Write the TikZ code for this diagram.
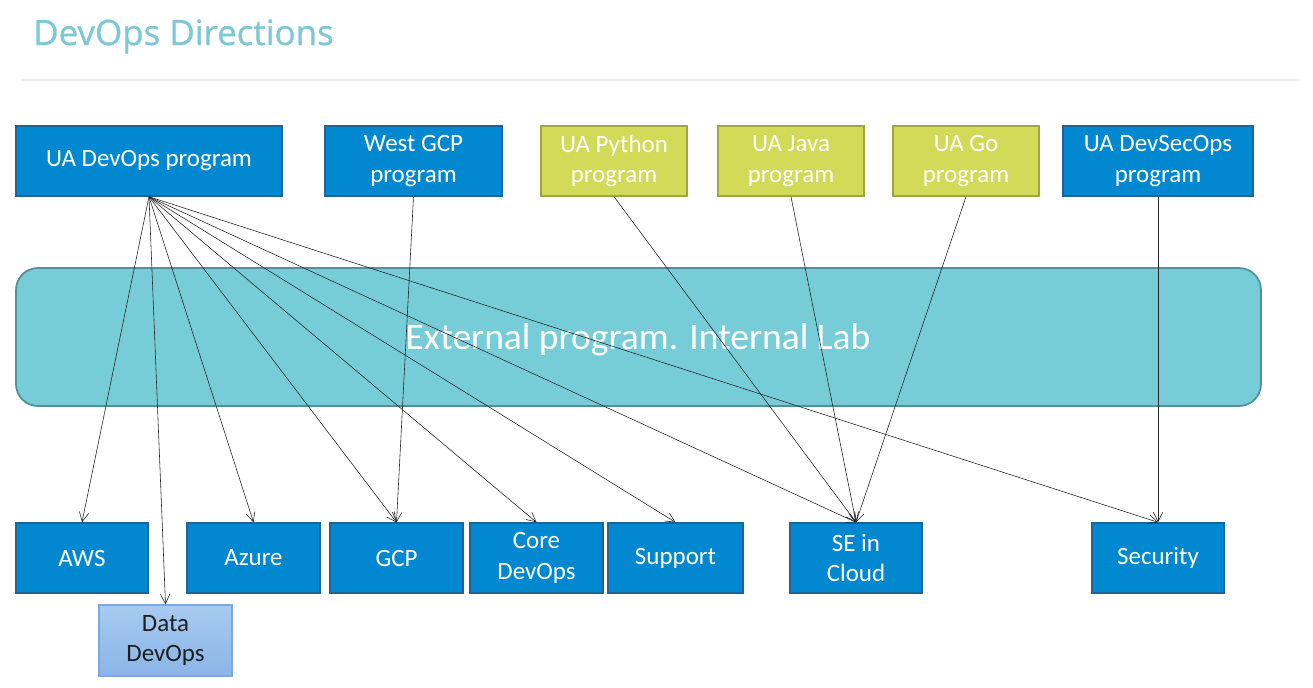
\documentclass[tikz,border=0pt]{standalone}
\usepackage{fontspec}
\setmainfont{Carlito}
\newfontfamily\titlefont[FakeBold=0.9]{Open Sans}
\usetikzlibrary{arrows.meta}

\definecolor{boxblue}{RGB}{2,136,209}
\definecolor{boxblueline}{RGB}{30,100,150}
\definecolor{boxgreen}{RGB}{210,219,87}
\definecolor{boxgreenline}{RGB}{160,168,60}
\definecolor{labfill}{RGB}{118,205,216}
\definecolor{labline}{RGB}{80,145,155}
\definecolor{datatop}{RGB}{168,203,241}
\definecolor{databot}{RGB}{138,181,231}
\definecolor{dataline}{RGB}{120,170,220}
\definecolor{titleblue}{RGB}{125,200,214}

\begin{document}
\begin{tikzpicture}[x=0.03cm,y=-0.03cm,
	box/.style={draw=boxblueline,line width=1.2pt,fill=boxblue,text=white,inner sep=0pt,
		minimum height=2.1cm,align=center,font=\fontsize{21.3}{26}\selectfont},
	greenbox/.style={box,draw=boxgreenline,fill=boxgreen},
	databox/.style={box,draw=dataline,top color=datatop,bottom color=databot,text={black!88}},
	arr/.style={-{Straight Barb[length=8pt,width=8pt]},line width=0.5pt,black!85}]
	\useasboundingbox (0,0) rectangle (1313,687);
	% title
	\draw[white!94!black,line width=2pt] (22,80) -- (1300,80);
	\node[anchor=base west,inner sep=0pt,text=titleblue,font=\titlefont\fontsize{29.8}{34}\selectfont] (title) at (33,45) {DevOps Directions};
	% band
	\draw[fill=labfill,draw=labline,line width=1.5pt,rounded corners=0.66cm] (16,268) rectangle (1261,406);
	\node[text=white,font=\fontsize{32}{38}\selectfont] (lab) at (638,340) {External program. Internal Lab};
	% programs
	\node[box,minimum width=7.98cm] (dev) at (149,161) {UA DevOps program};
	\node[box,minimum width=5.31cm] (west) at (413.5,161) {West GCP\\program};
	\node[greenbox,minimum width=4.38cm] (py) at (614,161) {UA Python\\program};
	\node[greenbox,minimum width=4.38cm] (java) at (791,161) {UA Java\\program};
	\node[greenbox,minimum width=4.38cm] (go) at (966,161) {UA Go\\program};
	\node[box,minimum width=5.7cm] (secops) at (1158,161) {UA DevSecOps\\program};
	% directions
	\node[box,minimum width=3.96cm] (aws) at (82,558) {AWS};
	\node[box,minimum width=3.99cm] (azure) at (253.5,558) {Azure};
	\node[box,minimum width=3.99cm] (gcp) at (396.5,558) {GCP};
	\node[box,minimum width=3.99cm] (core) at (536.5,558) {Core\\DevOps};
	\node[box,minimum width=4.05cm] (support) at (675.5,558) {Support};
	\node[box,minimum width=3.96cm] (se) at (856,558) {SE in\\Cloud};
	\node[box,minimum width=3.96cm] (sec) at (1158,558) {Security};
	\node[databox,minimum width=3.99cm,minimum height=2.13cm] (data) at (165.5,640.5) {Data\\DevOps};
	% links
	\foreach \t in {aws,data,azure,gcp,core,support,se,sec} \draw[arr] (dev.south) -- (\t.north);
	\draw[arr] (west.south) -- (gcp.north);
	\foreach \p in {py,java,go} \draw[arr] (\p.south) -- (se.north);
	\draw[arr] (secops.south) -- (sec.north);
\end{tikzpicture}
\end{document}
